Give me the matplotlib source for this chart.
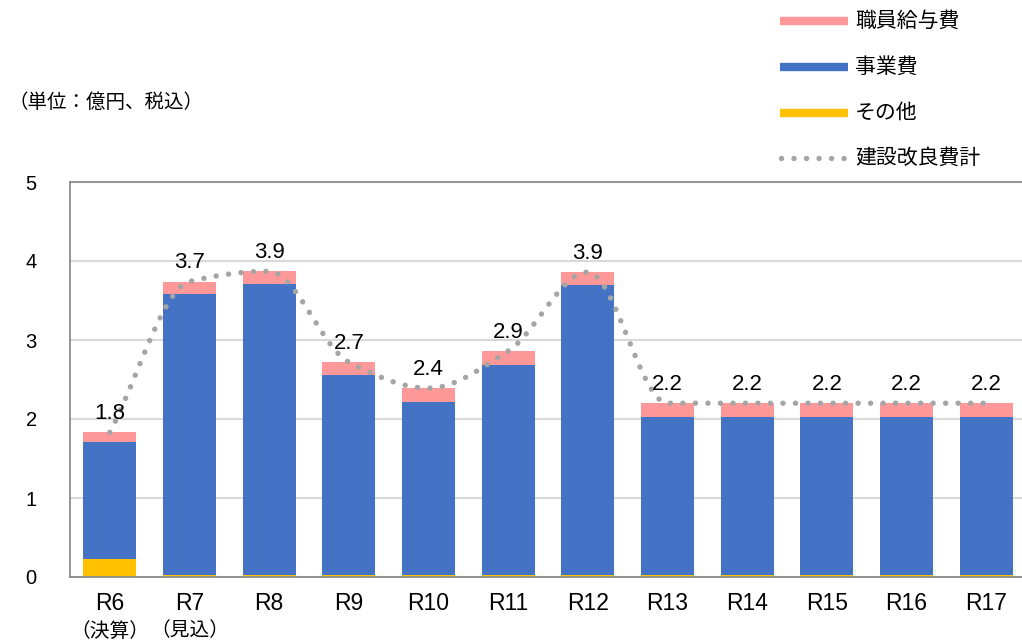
import numpy as np
import matplotlib
matplotlib.use("Agg")
import matplotlib.pyplot as plt
from matplotlib.lines import Line2D

plt.rcParams['font.family'] = ['Liberation Sans', 'Noto Sans CJK JP', 'DejaVu Sans']

categories = ["R6", "R7", "R8", "R9", "R10", "R11", "R12",
              "R13", "R14", "R15", "R16", "R17"]
sub_labels = ["（決算）", "（見込）", "", "", "", "", "", "", "", "", "", ""]
other = [0.23, 0.02, 0.02, 0.02, 0.02, 0.02, 0.02, 0.02, 0.02, 0.02, 0.02, 0.02]
jigyo = [1.48, 3.56, 3.69, 2.54, 2.20, 2.66, 3.68, 2.01, 2.01, 2.01, 2.01, 2.01]
salary = [0.12, 0.16, 0.16, 0.16, 0.17, 0.18, 0.16, 0.17, 0.17, 0.17, 0.17, 0.17]
total_labels = ["1.8", "3.7", "3.9", "2.7", "2.4", "2.9", "3.9", "2.2", "2.2", "2.2", "2.2", "2.2"]
series_names = ["職員給与費", "事業費", "その他", "建設改良費計"]
unit_label = "（単位：億円、税込）"

C_PINK = "#FF9999"
C_BLUE = "#4472C4"
C_YEL = "#FFC000"
C_GREY = "#A5A5A5"

W, H = 1022, 643
fig = plt.figure(figsize=(W / 100, H / 100), dpi=100)
ax = fig.add_axes([70 / W, 1 - 577 / H, 956 / W, (577 - 182) / H])

x = np.arange(len(categories))
other_a = np.array(other)
jigyo_a = np.array(jigyo)
salary_a = np.array(salary)
total = other_a + jigyo_a + salary_a

bw = 0.665
ax.bar(x, other_a, bw, color=C_YEL, zorder=2)
ax.bar(x, jigyo_a, bw, bottom=other_a, color=C_BLUE, zorder=2)
ax.bar(x, salary_a, bw, bottom=other_a + jigyo_a, color=C_PINK, zorder=2)

# smoothed line through totals (monotone cubic, no overshoot)
xf = x.astype(float)
h = np.diff(xf)
d = np.diff(total) / h
m = np.zeros_like(total)
m[0], m[-1] = d[0], d[-1]
for i in range(1, len(total) - 1):
    if d[i - 1] * d[i] <= 0:
        m[i] = 0.0
    else:
        m[i] = 2.0 / (1.0 / d[i - 1] + 1.0 / d[i])
xs, ys = [], []
for i in range(len(total) - 1):
    t = np.linspace(0, 1, 60)
    if i > 0:
        t = t[1:]
    h00 = 2 * t ** 3 - 3 * t ** 2 + 1
    h10 = t ** 3 - 2 * t ** 2 + t
    h01 = -2 * t ** 3 + 3 * t ** 2
    h11 = t ** 3 - t ** 2
    yy = h00 * total[i] + h10 * h[i] * m[i] + h01 * total[i + 1] + h11 * h[i] * m[i + 1]
    xs.extend(xf[i] + t * h[i]); ys.extend(yy)
DOT = (0, (0.01, 2.3))
ax.plot(xs, ys, color=C_GREY, lw=3.9, linestyle=DOT,
        dash_capstyle='round', zorder=3)

for xi, ti, lab in zip(x, total, total_labels):
    ax.annotate(lab, (xi, ti), xytext=(0, 6), textcoords='offset points',
                ha='center', va='bottom', fontsize=16, color='black', zorder=4)

ax.set_xlim(-0.5, 11.5)
ax.set_ylim(0, 5)
ax.set_yticks([0, 1, 2, 3, 4, 5])
ax.set_yticklabels(["0", "1", "2", "3", "4", "5"])
ax.set_xticks(x)
ax.set_xticklabels(categories)
ax.tick_params(axis='y', length=0, pad=24, labelsize=14.5)
ax.tick_params(axis='x', length=0, pad=11, labelsize=16.5)
ax.yaxis.grid(True, color="#D9D9D9", lw=1.5, zorder=0)
ax.set_axisbelow(True)
for s in ['left', 'bottom', 'top']:
    ax.spines[s].set_color("#8C8C8C")
    ax.spines[s].set_linewidth(1.3)
ax.spines['right'].set_visible(False)

for xi, sl in zip(x, sub_labels):
    if sl:
        ax.annotate(sl, (xi, 0), xycoords=('data', 'axes fraction'),
                    xytext=(0, -54 * 0.72), textcoords='offset points',
                    ha='center', va='center', fontsize=14.2, annotation_clip=False)

fig.text(8 / W, 1 - 103 / H, unit_label, fontsize=14, va='center', ha='left')

# legend
leg_rows = [(21, C_PINK, 'solid'), (67, C_BLUE, 'solid'), (113, C_YEL, 'solid'), (158, C_GREY, 'dot')]
for (yy, col, st), name in zip(leg_rows, series_names):
    fy = 1 - yy / H
    if st == 'solid':
        fig.add_artist(Line2D([780 / W, 848 / W], [fy, fy], color=col, lw=6,
                              solid_capstyle='butt', transform=fig.transFigure))
    else:
        fig.add_artist(Line2D([781 / W, 846 / W], [fy, fy], color=col, lw=3.9,
                              linestyle=DOT, dash_capstyle='round',
                              transform=fig.transFigure))
    fig.text(855 / W, fy, name, fontsize=15, va='center', ha='left')

fig.savefig("out.png", dpi=100)
